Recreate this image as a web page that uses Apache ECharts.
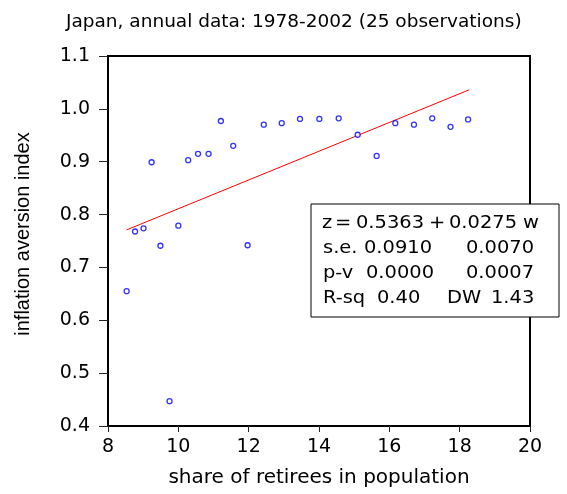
<!DOCTYPE html>
<html>
<head>
<meta charset="utf-8">
<script src="https://cdn.jsdelivr.net/npm/echarts@6/dist/echarts.min.js"></script>
<style>
html,body{margin:0;padding:0;background:#fff;}
#chart{width:567px;height:494px;}
</style>
</head>
<body>
<div id="chart"></div>
<script>
// Share of retirees in population (x) and inflation aversion index (y)
var shareRetirees = [8.53, 8.77, 9.01, 9.24, 9.49, 9.75, 10.00, 10.28, 10.56, 10.86, 11.21, 11.56, 11.97, 12.43, 12.94, 13.46, 14.01, 14.56, 15.10, 15.64, 16.17, 16.70, 17.22, 17.74, 18.24];
var inflationAversion = [0.655, 0.768, 0.774, 0.899, 0.741, 0.447, 0.779, 0.903, 0.915, 0.915, 0.977, 0.930, 0.742, 0.970, 0.973, 0.981, 0.981, 0.982, 0.951, 0.911, 0.973, 0.970, 0.982, 0.966, 0.980];
// Fitted line endpoints
var fitX = [8.53, 18.27];
var fitY = [0.771, 1.036];
var titleText = 'Japan, annual data: 1978-2002 (25 observations)';
var xTitle = 'share of retirees in population';
var yTitle = 'inflation aversion index';
// Regression statistics box
var statRow1 = ['z', '=', '0.5363', '+', '0.0275', 'w'];
var statRow2 = ['s.e.', '0.0910', '0.0070'];
var statRow3 = ['p-v', '0.0000', '0.0007'];
var statRow4 = ['R-sq', '0.40', 'DW', '1.43'];

var points = shareRetirees.map(function (x, i) { return [x, inflationAversion[i]]; });
var fitLine = fitX.map(function (x, i) { return [x, fitY[i]]; });

var F = 'DejaVu Sans';
var boxFont = 'normal 18px "DejaVu Sans"';
function txt(t, x, y) {
  return { type: 'text', z: 101, x: x, y: y, scaleX: 1.08,
    style: { text: t, x: 0, y: 0, font: boxFont, fill: '#000', verticalAlign: 'middle', align: 'left' } };
}

var chart = echarts.init(document.getElementById('chart'), null, { renderer: 'canvas' });
chart.setOption({
  animation: false,
  backgroundColor: '#fff',
  title: {
    text: titleText,
    left: 61, top: 8,
    textStyle: { fontFamily: F, fontSize: 18.5, fontWeight: 'normal', color: '#000' }
  },
  grid: {
    left: 108, right: 37, top: 56, bottom: 68,
    show: true, borderColor: '#000', borderWidth: 2, backgroundColor: 'transparent'
  },
  xAxis: {
    type: 'value', min: 8, max: 20, interval: 2,
    name: xTitle, nameLocation: 'middle', nameGap: 42,
    nameTextStyle: { fontFamily: F, fontSize: 20, color: '#000' },
    axisLine: { show: true, onZero: false, lineStyle: { color: '#000', width: 2 } },
    axisTick: { show: true, inside: false, length: 6, lineStyle: { color: '#222', width: 1 } },
    axisLabel: { margin: 12, fontFamily: F, fontSize: 19, color: '#000' },
    splitLine: { show: false }
  },
  yAxis: {
    type: 'value', min: 0.4, max: 1.1, interval: 0.1,
    name: yTitle, nameLocation: 'middle', nameGap: 75, nameRotate: 90,
    nameTextStyle: { fontFamily: 'Liberation Sans', fontSize: 20, color: '#000', padding: [0, 0, 0, 14] },
    axisLine: { show: true, onZero: false, lineStyle: { color: '#000', width: 2 } },
    axisTick: { show: true, inside: false, length: 9, lineStyle: { color: '#222', width: 1 } },
    axisLabel: { margin: 18, fontFamily: F, fontSize: 19, color: '#000', formatter: function (v) { return v.toFixed(1); } },
    splitLine: { show: false }
  },
  series: [
    {
      type: 'line', data: fitLine, symbol: 'none', silent: true, z: 2,
      lineStyle: { color: '#ff0000', width: 1 }
    },
    {
      type: 'scatter', data: points, symbol: 'circle', symbolSize: 5, z: 3,
      itemStyle: { color: '#fff', borderColor: '#0000ff', borderWidth: 1.3 }
    }
  ],
  graphic: [
    { type: 'rect', z: 100, shape: { x: 311, y: 204, width: 248, height: 113 }, style: { fill: '#fff', stroke: '#000', lineWidth: 1 } },
    txt(statRow1[0], 322, 223), txt(statRow1[1], 335, 223), txt(statRow1[2], 356, 223),
    txt(statRow1[3], 429, 223), txt(statRow1[4], 449, 223), txt(statRow1[5], 523, 223),
    txt(statRow2[0], 323, 248), txt(statRow2[1], 364, 248), txt(statRow2[2], 466, 248),
    txt(statRow3[0], 323, 273), txt(statRow3[1], 366, 273), txt(statRow3[2], 466, 273),
    txt(statRow4[0], 323, 298), txt(statRow4[1], 377, 298), txt(statRow4[2], 447, 298), txt(statRow4[3], 491, 298)
  ]
});
</script>
</body>
</html>
